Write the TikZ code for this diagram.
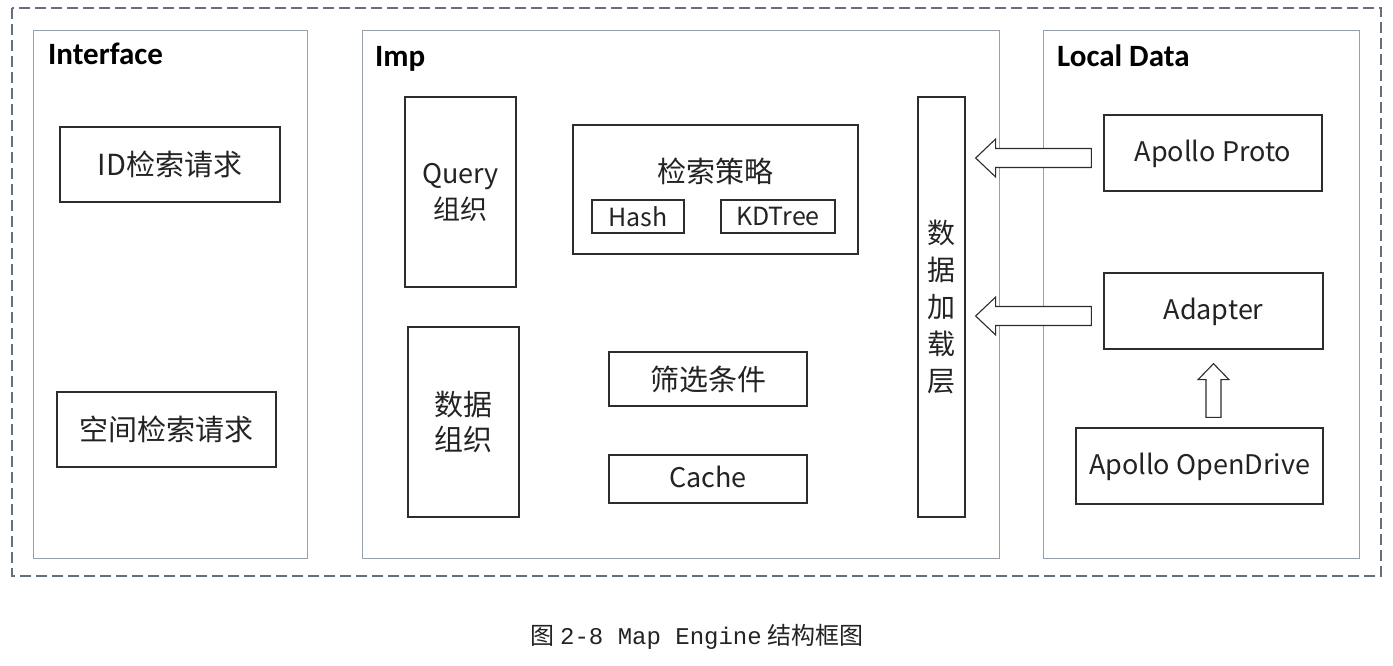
\documentclass[tikz,border=0pt]{standalone}
\usepackage{fontspec}
\setmainfont{Noto Sans CJK SC}
\newfontfamily\headfont{Carlito}
\newfontfamily\capmono{Liberation Mono}
\usetikzlibrary{calc}

\definecolor{ink}{RGB}{35,35,35}
\definecolor{boxline}{RGB}{45,45,45}
\definecolor{panelline}{RGB}{150,160,172}
\definecolor{outerline}{RGB}{100,112,125}

% block arrow pointing left: #1 tail, #2 tip (same height)
\newcommand{\blockleft}[2]{%
  \draw[blockarrow] (#2) -- ($(#2)+(20,-19)$) -- ($(#2)+(20,-9.5)$)
    -- ($(#1)+(0,-9.5)$) -- ($(#1)+(0,9.5)$) -- ($(#2)+(20,9.5)$)
    -- ($(#2)+(20,19)$) -- cycle;}
% block arrow pointing up: #1 tail, #2 tip (same x)
\newcommand{\blockup}[2]{%
  \draw[blockarrow] (#2) -- ($(#2)+(15.5,16)$) -- ($(#2)+(7.5,16)$)
    -- ($(#1)+(7.5,0)$) -- ($(#1)+(-7.5,0)$) -- ($(#2)+(-7.5,16)$)
    -- ($(#2)+(-15.5,16)$) -- cycle;}

\begin{document}
\begin{tikzpicture}[x=1pt,y=-1pt,
  panel/.style={draw=panelline,line width=0.9pt},
  outer/.style={draw=outerline,line width=1.2pt,dash pattern=on 11pt off 5pt},
  box/.style={draw=boxline,line width=1.3pt,text=ink,inner sep=0pt},
  cjk/.style={font=\fontsize{29}{36}\selectfont},
  lat/.style={font=\fontsize{27}{34}\selectfont,text depth=4pt},
  small/.style={font=\fontsize{25}{30}\selectfont},
  title/.style={anchor=base west,inner sep=0pt,text=black,font=\headfont\bfseries\fontsize{31}{36}\selectfont},
  blockarrow/.style={draw=boxline,line width=1.1pt,fill=white,line join=miter}
]
\useasboundingbox (0,0) rectangle (1393,665);

% frames
\draw[outer] (12,8) rectangle (1381,576);
\draw[panel] (33,30) rectangle (307,558);
\draw[panel] (362,30) rectangle (999,558);
\draw[panel] (1043,30) rectangle (1359,558);

\node[title] (tInterface) at (48,64) {Interface};
\node[title] (tImp) at (375,66) {Imp};
\node[title] (tLocal) at (1057,66) {Local Data};

% Interface
\node[box,cjk,minimum width=220pt,minimum height=75pt] (idreq) at (170,164.5) {ID检索请求};
\node[box,cjk,minimum width=219pt,minimum height=75pt] (spreq) at (166.5,429.5) {空间检索请求};

% Imp
\node[box,minimum width=111pt,minimum height=190pt,align=center,
      font=\fontsize{27}{36}\selectfont] (query) at (460.5,192) {Query\\组织};
\node[box,minimum width=111pt,minimum height=190pt,align=center,
      font=\fontsize{29}{35}\selectfont] (dataorg) at (463.5,422) {数据\\组织};
\node[box,minimum width=285pt,minimum height=129pt] (strategy) at (715.5,189.5) {};
\node[text=ink,font=\fontsize{29}{36}\selectfont,inner sep=0pt] (stitle) at (715,171) {检索策略};
\node[box,small,minimum width=92pt,minimum height=33pt] (hash) at (638,216.5) {Hash};
\node[box,small,minimum width=114pt,minimum height=33pt] (kdtree) at (778,216.5) {KDTree};
\node[box,cjk,minimum width=198pt,minimum height=54pt] (filter) at (708,379) {筛选条件};
\node[box,lat,minimum width=198pt,minimum height=48pt] (cache) at (708,479) {Cache};
\node[box,minimum width=47pt,minimum height=420pt,align=center,
      font=\fontsize{28}{37}\selectfont] (loader) at (941.5,307) {数\\据\\加\\载\\层};

% Local Data
\node[box,lat,minimum width=218pt,minimum height=76pt] (proto) at (1213,153) {Apollo Proto};
\node[box,lat,minimum width=219pt,minimum height=76pt] (adapter) at (1213.5,311) {Adapter};
\node[box,lat,minimum width=247pt,minimum height=76pt] (opendrive) at (1199.5,466) {Apollo OpenDrive};

% data flow arrows
\coordinate (ldr) at ([xshift=10pt]loader.east);
\coordinate (a1tail) at ([shift={(-12,5)}]proto.west);
\coordinate (a1tip) at (a1tail -| ldr);
\blockleft{a1tail}{a1tip}
\coordinate (a2tail) at ([shift={(-12,5)}]adapter.west);
\coordinate (a2tip) at (a2tail -| ldr);
\blockleft{a2tail}{a2tip}
\coordinate (odtop) at ([yshift=10pt]opendrive.north);
\coordinate (a3tail) at (odtop -| adapter.south);
\coordinate (a3tip) at ([yshift=-14pt]adapter.south);
\blockup{a3tail}{a3tip}

% caption
\node[text=ink,font=\fontsize{24}{28}\selectfont,inner sep=0pt] (caption) at (697,637)
  {图 {\capmono 2-8 Map Engine} 结构框图};
\end{tikzpicture}
\end{document}
